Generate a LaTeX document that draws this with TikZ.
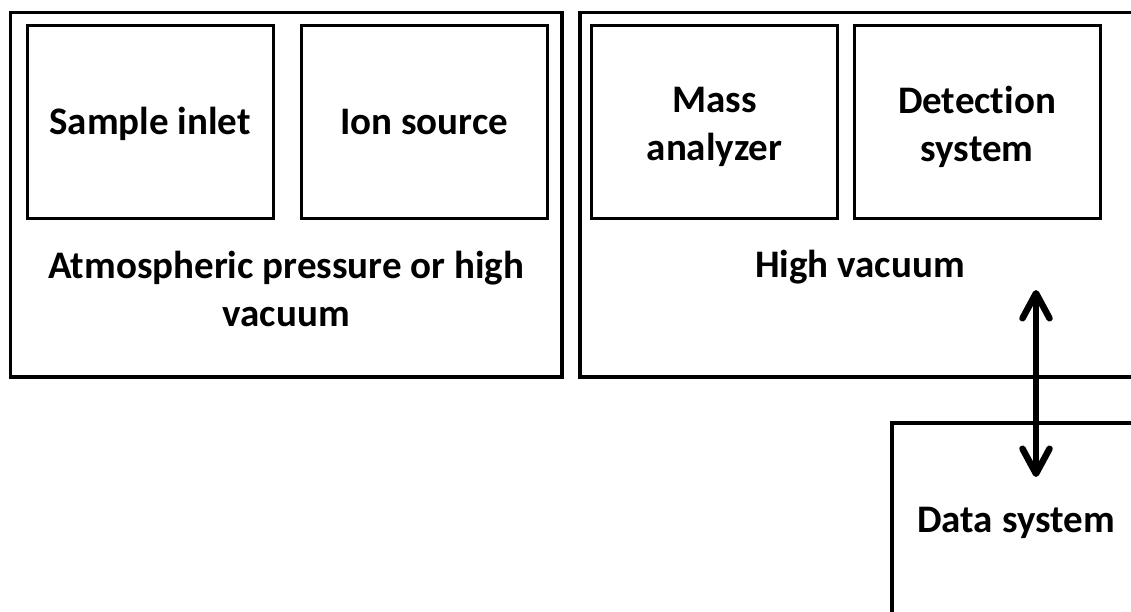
\documentclass[tikz,border=0pt]{standalone}
\usepackage{fontspec}
\setmainfont{Carlito}[Ligatures=CommonOff]
\usetikzlibrary{arrows.meta}

\begin{document}
\begin{tikzpicture}[x=1pt, y=-1pt,
  txt/.style={align=center, inner sep=0pt, font=\bfseries\fontsize{39}{48}\selectfont},
  unit/.style={draw, line width=3pt, minimum width=246pt, minimum height=193.5pt},
  link/.style={line width=6.5pt, {Straight Barb[length=25pt, width=27pt, round]}-{Straight Barb[length=25pt, width=27pt, round]}}]
  \useasboundingbox (0,0) rectangle (1131,611);
  \clip (0,0) rectangle (1131,611);
  \coordinate (A) at (10.5,12.5);
  \coordinate (B) at (562,377);
  \coordinate (C) at (580,12.5);
  \coordinate (D) at (1140,377);
  \coordinate (E) at (892,423);
  \coordinate (F) at (1140,625);
  \draw[line width=3.5pt] (A) rectangle (B);
  \draw[line width=3.5pt] (C) rectangle (D);
  \draw[line width=3.3pt] (E) rectangle (F);
  \node[unit] (inlet)    at (150,121.75)   {};
  \node[unit] (source)   at (424,121.75)   {};
  \node[unit] (analyzer) at (714.5,121.75) {};
  \node[unit] (detector) at (977,121.75)   {};
  \node[txt, anchor=base] (inlettxt)  at (150,134)   {Sample inlet};
  \node[txt, anchor=base] (sourcetxt) at (424,134)   {Ion source};
  \node[txt] (analyzertxt) at (714.5,127) {Mass\\analyzer};
  \node[txt] (detectortxt) at (977,127)   {Detection\\system};
  \node[txt] (atm) at (286.25,289) {Atmospheric pressure or high\\vacuum};
  \node[txt, anchor=base] (vac)  at (860,277)  {High vacuum};
  \node[txt, anchor=base] (data) at (1016,532) {Data system};
  \coordinate (up)   at (1036,290);
  \coordinate (down) at (1036,477);
  \draw[link] (up) -- (down);
\end{tikzpicture}
\end{document}
